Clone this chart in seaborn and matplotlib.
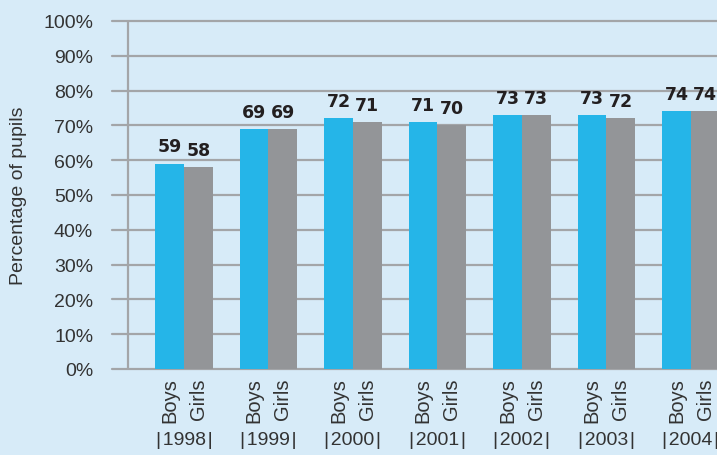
import pandas as pd
import matplotlib
matplotlib.use("Agg")
import matplotlib.pyplot as plt
import matplotlib.transforms as mtransforms
import seaborn as sns

# Datos
years = ["1998", "1999", "2000", "2001", "2002", "2003", "2004"]
boys = [59, 69, 72, 71, 73, 73, 74]
girls = [58, 69, 71, 70, 73, 72, 74]
sexes = ["Boys", "Girls"]
y_ticks = [0, 10, 20, 30, 40, 50, 60, 70, 80, 90, 100]

bg = "#D7EBF8"
blue = "#25B5E8"
grey = "#939598"
line_col = "#A3A5A8"
text_col = "#333333"

df = pd.DataFrame({
    "year": years * 2,
    "sex": ["Boys"] * len(years) + ["Girls"] * len(years),
    "pct": boys + girls,
})

sns.set_style("white")
plt.rcParams["font.family"] = ["Liberation Sans", "DejaVu Sans"]

fig = plt.figure(figsize=(7.17, 4.56), dpi=100, facecolor=bg)
ax = fig.add_axes([112 / 717, 1 - 370 / 456, 1 - 112 / 717, 348 / 456])
ax.set_facecolor(bg)

sns.barplot(data=df, x="year", y="pct", hue="sex", hue_order=sexes,
            palette=[blue, grey], width=0.68, gap=0, saturation=1,
            legend=False, ax=ax, zorder=3, linewidth=0, edgecolor="none")

# Etiquetas de valores
for cont in ax.containers:
    ax.bar_label(cont, labels=[f"{v:.0f}" for v in cont.datavalues],
                 padding=6, fontsize=12.5, fontweight="bold",
                 color="#231F20", family="DejaVu Sans")

ax.set_ylim(0, 100)
ax.set_xlim(-0.852, 6.308)

# Líneas de cuadrícula y eje
for t in y_ticks:
    ax.axhline(t, color=line_col, lw=1.6, zorder=1, clip_on=False)
ax.axvline(-0.663, color=line_col, lw=1.6, zorder=1)

for s in ax.spines.values():
    s.set_visible(False)

ax.set_yticks(y_ticks)
ax.set_yticklabels([f"{t}%" for t in y_ticks], fontsize=14, color=text_col)
ax.tick_params(axis="y", length=0, pad=13.5)

# Etiquetas Boys / Girls bajo cada barra
centers = [p.get_x() + p.get_width() / 2 for p in ax.patches]
names = ["Boys"] * len(years) + ["Girls"] * len(years)
ax.set_xticks(centers)
ax.set_xticklabels(names, rotation=90, fontsize=14.5, color=text_col,
                   va="top", ha="center")
ax.tick_params(axis="x", length=0, pad=6)
ax.set_xlabel("")

# Años con separadores
trans = mtransforms.blended_transform_factory(ax.transData, ax.transAxes)
for i, y in enumerate(years):
    ax.text(i, -71 / 348, f"|\u200a{y}\u200a|", transform=trans, ha="center",
            va="center", fontsize=14, color=text_col, clip_on=False)

ax.set_ylabel("Percentage of pupils", fontsize=14, color=text_col)
ax.yaxis.set_label_coords(-(112 - 27) / 605, 0.5)

fig.savefig("out.png", dpi=100, facecolor=bg)
